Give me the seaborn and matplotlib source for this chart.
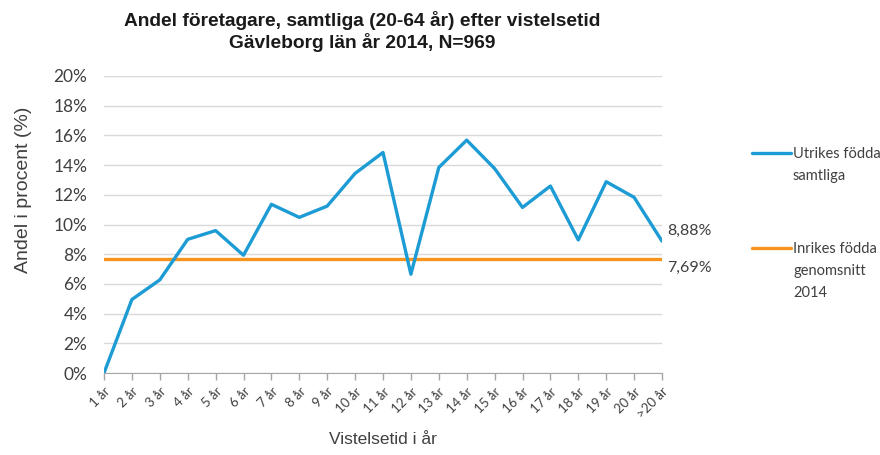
import pandas as pd
import matplotlib.pyplot as plt
import seaborn as sns

# Data
years = ["1 år", "2 år", "3 år", "4 år", "5 år", "6 år", "7 år", "8 år", "9 år", "10 år",
         "11 år", "12 år", "13 år", "14 år", "15 år", "16 år", "17 år", "18 år", "19 år",
         "20 år", ">20 år"]
utrikes = [0.0, 4.95, 6.27, 9.0, 9.59, 7.93, 11.36, 10.48, 11.24, 13.44,
           14.85, 6.65, 13.84, 15.68, 13.77, 11.15, 12.59, 8.96, 12.88, 11.83, 8.88]
inrikes_avg = 7.69
y_ticks = [0, 2, 4, 6, 8, 10, 12, 14, 16, 18, 20]
legend_utrikes = ["Utrikes födda", "samtliga"]
legend_inrikes = ["Inrikes födda", "genomsnitt", "2014"]

blue = "#1c9bd4"
orange = "#f7941d"
txt = "#404040"
calibri_like = ['Lato', 'DejaVu Sans']

data = pd.DataFrame({
    "pos": range(len(years)),
    "Utrikes": utrikes,
    "Inrikes": [inrikes_avg] * len(years),
})

sns.set_style("white")
plt.rcParams['font.family'] = ['Liberation Sans', 'DejaVu Sans']

W, H = 880, 455
fig = plt.figure(figsize=(8.8, 4.55), dpi=100)
ax = fig.add_axes([104 / W, 1 - 373 / H, 558 / W, 297 / H])

sns.lineplot(data=data, x="pos", y="Inrikes", color=orange, linewidth=2.4, ax=ax)
sns.lineplot(data=data, x="pos", y="Utrikes", color=blue, linewidth=2.4, ax=ax)

ax.set_xlim(0, len(years) - 1)
ax.set_ylim(0, 20)
ax.set_yticks(y_ticks)
ax.set_yticklabels([f"{t}%" for t in y_ticks], fontsize=12.5, color=txt,
                   family=calibri_like)
ax.set_xticks(range(len(years)))
ax.set_xticklabels(years, rotation=45, ha="right", rotation_mode="anchor",
                   fontsize=9.5, color=txt, family=calibri_like)
ax.tick_params(axis="x", length=5, width=1, color="#a6a6a6", bottom=True, pad=4)
ax.tick_params(axis="y", length=0, pad=12)
ax.grid(axis="y", color="#d9d9d9", linewidth=1)
ax.set_axisbelow(True)
for s in ["left", "right", "top"]:
    ax.spines[s].set_visible(False)
ax.spines["bottom"].set_color("#a6a6a6")

ax.set_xlabel("Vistelsetid i år", fontsize=12.5, color=txt)
ax.xaxis.label.set_va("center")
ax.xaxis.set_label_coords(0.5, (373 - 440) / 297)
ax.set_ylabel("Andel i procent (%)", fontsize=14, color=txt)
ax.yaxis.label.set_va("center")
ax.yaxis.set_label_coords((23 - 104) / 558, (373 - 190) / 297)

fig.text(362 / W, 1 - 31.5 / H,
         "Andel företagare, samtliga (20-64 år) efter vistelsetid\n"
         "Gävleborg län år 2014, N=969", fontsize=13.8, fontweight="bold",
         color="#1a1a1a", ha="center", va="center", linespacing=1.2)

# value labels at the last point
ax.text(len(years) - 1 + 0.2, utrikes[-1] + 0.25, f"{utrikes[-1]:.2f}".replace(".", ",") + "%",
        fontsize=11.5, color=txt, va="bottom", family=calibri_like)
ax.text(len(years) - 1 + 0.2, inrikes_avg - 0.15, f"{inrikes_avg:.2f}".replace(".", ",") + "%",
        fontsize=11.5, color=txt, va="top", family=calibri_like)

# legend: handle next to the first line, remaining lines below it
leg_fs = 10.5
line_gap = 22
for lines, color, y0 in [(legend_utrikes, blue, 154), (legend_inrikes, orange, 249)]:
    handle = plt.Line2D([], [], color=color, linewidth=2.4)
    leg = fig.legend([handle], [lines[0]], loc="center left",
                     bbox_to_anchor=(752 / W, 1 - y0 / H), frameon=False,
                     borderpad=0, borderaxespad=0, handlelength=2.65,
                     handletextpad=0.15, prop={'family': calibri_like, 'size': leg_fs})
    leg.get_texts()[0].set_color(txt)
    for i, extra in enumerate(lines[1:], start=1):
        fig.text(793 / W, 1 - (y0 + i * line_gap) / H, extra, fontsize=leg_fs,
                 color=txt, va="center", ha="left", family=calibri_like)

fig.savefig("out.png", dpi=100)
